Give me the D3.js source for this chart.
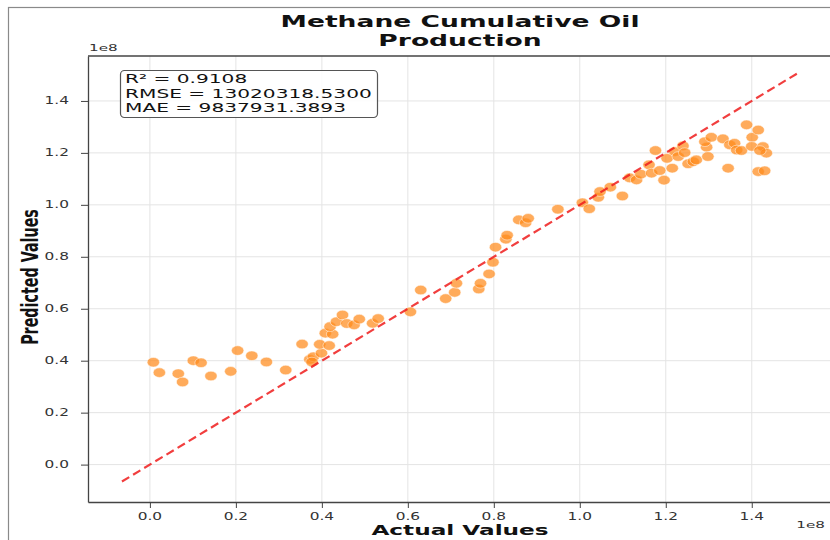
<!DOCTYPE html>
<html>
<head>
<meta charset="utf-8">
<script src="https://cdn.jsdelivr.net/npm/d3@7"></script>
<style>
  html, body { margin: 0; padding: 0; background: #ffffff; }
  svg { display: block; font-family: "DejaVu Sans", sans-serif; }
</style>
</head>
<body>
<svg id="chart" width="830" height="540"></svg>
<script>
// Values are in units of 1e8 (shown as the axis offset label)
const actualValues = [
  0.008, 0.022, 0.066, 0.076, 0.101, 0.119, 0.142, 0.188, 0.204, 0.237,
  0.271, 0.316, 0.354, 0.372, 0.380, 0.377, 0.399, 0.395, 0.417, 0.408,
  0.425, 0.419, 0.434, 0.448, 0.458, 0.475, 0.487, 0.518, 0.531, 0.606,
  0.630, 0.688, 0.709, 0.713, 0.765, 0.769, 0.789, 0.798, 0.804, 0.828,
  0.831, 0.858, 0.874, 0.880, 0.949, 1.006, 1.022, 1.043, 1.047, 1.071,
  1.099, 1.116, 1.132, 1.142, 1.161, 1.167, 1.186, 1.196, 1.176, 1.203,
  1.215, 1.221, 1.229, 1.240, 1.244, 1.252, 1.264, 1.271, 1.295, 1.298,
  1.291, 1.306, 1.333, 1.345, 1.349, 1.360, 1.365, 1.376, 1.388, 1.401,
  1.400, 1.415, 1.415, 1.430, 1.426, 1.434, 1.419
];
const predictedValues = [
  0.394, 0.354, 0.350, 0.318, 0.400, 0.392, 0.341, 0.359, 0.439, 0.419,
  0.395, 0.364, 0.464, 0.405, 0.415, 0.395, 0.429, 0.463, 0.458, 0.506,
  0.502, 0.531, 0.550, 0.576, 0.543, 0.538, 0.560, 0.544, 0.562, 0.588,
  0.672, 0.639, 0.663, 0.698, 0.676, 0.698, 0.734, 0.779, 0.837, 0.868,
  0.883, 0.942, 0.931, 0.948, 0.983, 1.008, 0.985, 1.029, 1.051, 1.068,
  1.034, 1.104, 1.096, 1.118, 1.154, 1.122, 1.132, 1.095, 1.209, 1.179,
  1.141, 1.205, 1.186, 1.227, 1.201, 1.158, 1.166, 1.173, 1.222, 1.186,
  1.243, 1.260, 1.254, 1.141, 1.231, 1.237, 1.211, 1.209, 1.308, 1.260,
  1.225, 1.288, 1.128, 1.131, 1.224, 1.199, 1.209
];
// Ideal fit line end points (y = x)
const identityLine = [-0.065, 1.51];
const xTicks = [0.0, 0.2, 0.4, 0.6, 0.8, 1.0, 1.2, 1.4];
const yTicks = [0.0, 0.2, 0.4, 0.6, 0.8, 1.0, 1.2, 1.4];
const statLines = ["R\u00B2 = 0.9108", "RMSE = 13020318.5300", "MAE = 9837931.3893"];
const titleLines = ["Methane Cumulative Oil", "Production"];

const svg = d3.select("#chart");
const STRETCH = 1.6;   // horizontal text stretch of the figure

const plot = { left: 88, right: 833, top: 56, bottom: 502 };
const x = d3.scaleLinear().domain([-0.144, 1.589]).range([plot.left, plot.right]);
const y = d3.scaleLinear().domain([-0.144, 1.573]).range([plot.bottom, plot.top]);

// helper: stretched text anchored at (px, py)
function stext(parent, px, py, str, opts = {}) {
  const rot = opts.rotate ? ` rotate(${opts.rotate})` : "";
  return parent.append("text")
    .attr("transform", `translate(${px},${py}) scale(${STRETCH},1)${rot}`)
    .attr("text-anchor", opts.anchor || "start")
    .attr("font-size", opts.size || 10)
    .attr("font-weight", opts.weight || "normal")
    .attr("fill", opts.fill || "#222")
    .text(str);
}

// outer figure frame
svg.append("rect")
  .attr("x", 8.5).attr("y", 7.5).attr("width", 840).attr("height", 560)
  .attr("fill", "none").attr("stroke", "#8a8a8a").attr("stroke-width", 1.2);

// plot background
svg.append("rect")
  .attr("x", plot.left).attr("y", plot.top)
  .attr("width", plot.right - plot.left).attr("height", plot.bottom - plot.top)
  .attr("fill", "#ffffff");

svg.append("clipPath").attr("id", "plotclip")
  .append("rect")
  .attr("x", plot.left).attr("y", plot.top)
  .attr("width", plot.right - plot.left).attr("height", plot.bottom - plot.top);

// grid
const grid = svg.append("g").attr("stroke", "#e4e4e4").attr("stroke-width", 1);
grid.selectAll("line.gx").data(xTicks).join("line").attr("class", "gx")
  .attr("x1", d => x(d)).attr("x2", d => x(d))
  .attr("y1", plot.top).attr("y2", plot.bottom);
grid.selectAll("line.gy").data(yTicks).join("line").attr("class", "gy")
  .attr("x1", plot.left).attr("x2", plot.right)
  .attr("y1", d => y(d)).attr("y2", d => y(d));

// scatter points
const pts = svg.append("g").attr("clip-path", "url(#plotclip)");
pts.selectAll("ellipse").data(actualValues.map((a, i) => [a, predictedValues[i]]))
  .join("ellipse")
  .attr("cx", d => x(d[0]))
  .attr("cy", d => y(d[1]))
  .attr("rx", 6.2).attr("ry", 4.8)
  .attr("fill", "#ff8a1c").attr("fill-opacity", 0.72)
  .attr("stroke", "#ffffff").attr("stroke-width", 0.5);

// ideal fit line
svg.append("line")
  .attr("x1", x(identityLine[0])).attr("y1", y(identityLine[0]))
  .attr("x2", x(identityLine[1])).attr("y2", y(identityLine[1]))
  .attr("stroke", "#ee1c1c").attr("stroke-opacity", 0.85)
  .attr("stroke-width", 2.2).attr("stroke-dasharray", "8.5,4.5");

// axes
const xAxisG = svg.append("g").attr("transform", `translate(0,${plot.bottom})`)
  .call(d3.axisBottom(x).tickValues(xTicks).tickSizeInner(6).tickSizeOuter(0).tickFormat(""));
const yAxisG = svg.append("g").attr("transform", `translate(${plot.left},0)`)
  .call(d3.axisLeft(y).tickValues(yTicks).tickSizeInner(7).tickSizeOuter(0).tickFormat(""));
[xAxisG, yAxisG].forEach(g => {
  g.select(".domain").attr("stroke", "#444").attr("stroke-width", 1.3);
  g.selectAll(".tick line").attr("stroke", "#444").attr("stroke-width", 1);
});
// top spine
svg.append("line")
  .attr("x1", plot.left).attr("x2", plot.right)
  .attr("y1", plot.top).attr("y2", plot.top)
  .attr("stroke", "#444").attr("stroke-width", 1.3);

// tick labels
const tickLabels = svg.append("g");
xTicks.forEach(t => stext(tickLabels, x(t), 520, d3.format(".1f")(t),
  { anchor: "middle", size: 9.6, fill: "#333" }));
yTicks.forEach(t => stext(tickLabels, 69, y(t) + 3.5, d3.format(".1f")(t),
  { anchor: "end", size: 9.6, fill: "#333" }));

// offset labels
stext(svg, 89, 51, "1e8", { size: 9.5, fill: "#333" });
stext(svg, 825, 528, "1e8", { anchor: "end", size: 9.5, fill: "#333" });

// axis titles
stext(svg, 460, 535, "Actual Values", { anchor: "middle", size: 14.5, weight: "bold", fill: "#111" });
stext(svg, 38, 277, "Predicted Values",
  { anchor: "middle", size: 14.3, weight: "bold", fill: "#111", rotate: -90 });

// chart title
titleLines.forEach((line, i) =>
  stext(svg, 460, 27 + i * 19, line, { anchor: "middle", size: 16.6, weight: "bold", fill: "#111" }));

// metrics box
const box = svg.append("g");
box.append("rect")
  .attr("x", 120.5).attr("y", 70.5).attr("width", 257).attr("height", 47)
  .attr("rx", 4).attr("fill", "#ffffff").attr("fill-opacity", 0.85)
  .attr("stroke", "#555").attr("stroke-width", 1.2);
statLines.forEach((line, i) =>
  stext(box, 125, 83 + i * 14.5, line, { size: 12.6, fill: "#111" }));
</script>
</body>
</html>
